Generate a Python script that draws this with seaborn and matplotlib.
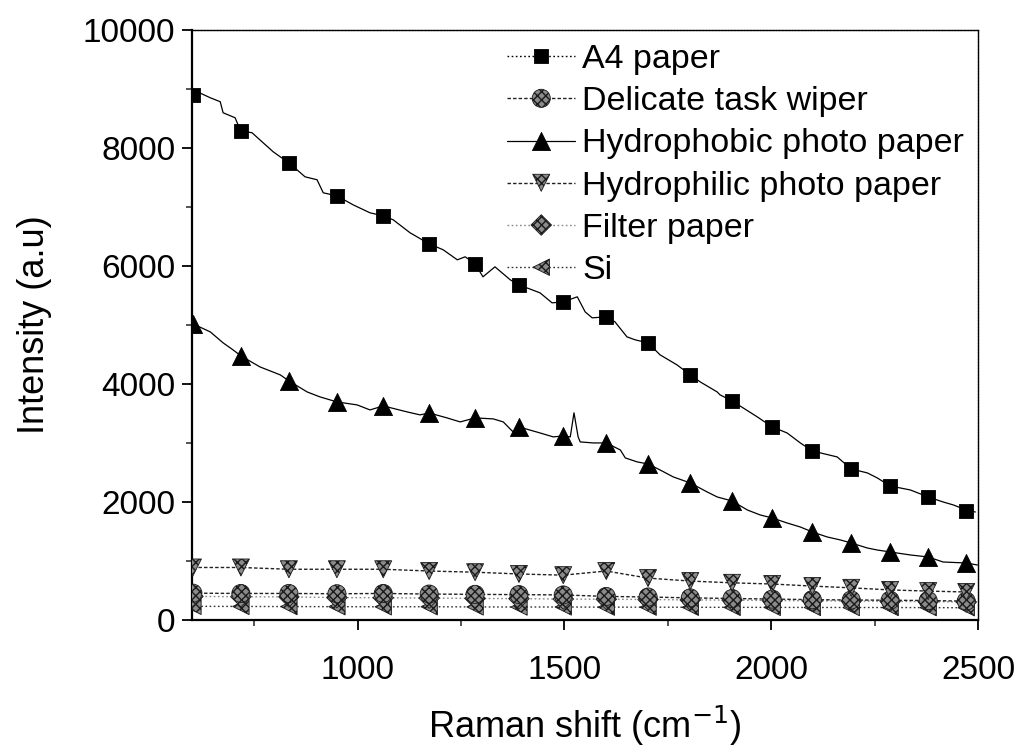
import numpy as np
import pandas as pd
import matplotlib
matplotlib.use("Agg")
import matplotlib.pyplot as plt
import seaborn as sns
from matplotlib.lines import Line2D
from matplotlib.ticker import MultipleLocator

# ---------------- data ----------------
series_names = ["A4 paper", "Delicate task wiper", "Hydrophobic photo paper",
                "Hydrophilic photo paper", "Filter paper", "Si"]

marker_x = [602, 718, 834, 950, 1062, 1173, 1284, 1390, 1497, 1601,
            1702, 1804, 1905, 2002, 2099, 2193, 2287, 2379, 2471]

a4_y = [8900, 8290, 7750, 7190, 6850, 6370, 6030, 5680, 5390, 5140,
        4690, 4150, 3710, 3270, 2860, 2560, 2270, 2080, 1850]
wiper_y = [455, 450, 450, 445, 450, 440, 435, 430, 425, 400,
           390, 375, 365, 355, 345, 340, 335, 330, 320]
hydrophobic_y = [5017, 4475, 4051, 3695, 3627, 3508, 3424, 3271, 3119, 3000,
                 2644, 2322, 2017, 1729, 1492, 1305, 1153, 1068, 966]
hydrophilic_y = [890, 890, 860, 860, 860, 830, 810, 780, 760, 830,
                 710, 660, 630, 610, 575, 545, 510, 490, 475]
filter_y = [400, 395, 392, 380, 378, 372, 366, 362, 355, 352,
            348, 340, 338, 330, 326, 322, 316, 312, 305]
si_y = [232, 230, 228, 226, 224, 225, 222, 220, 221, 218,
        218, 216, 215, 214, 213, 212, 212, 210, 208]

# denser traces of the two noisy spectra
a4_trace_x = [602, 644, 668, 675, 704, 711, 718, 745, 769, 796, 813, 834, 873, 902,
              917, 950, 989, 1030, 1062, 1086, 1127, 1156, 1173, 1207, 1241, 1260,
              1284, 1303, 1332, 1369, 1390, 1441, 1470, 1497, 1531, 1550, 1567,
              1601, 1622, 1651, 1671, 1702, 1731, 1772, 1804, 1828, 1869, 1876,
              1905, 1966, 2002, 2038, 2070, 2099, 2159, 2193, 2232, 2256, 2287,
              2336, 2379, 2415, 2440, 2471, 2493]
a4_trace_y = [8983, 8847, 8780, 8593, 8508, 8390, 8288, 8254, 8102, 7932, 7847, 7746,
              7508, 7458, 7237, 7186, 7034, 6898, 6847, 6780, 6559, 6441, 6373, 6271,
              6102, 6153, 6034, 5814, 5983, 5763, 5678, 5542, 5373, 5390, 5475, 5220,
              5119, 5136, 5051, 4797, 4746, 4695, 4492, 4322, 4153, 4034, 3864, 3814,
              3712, 3441, 3271, 3169, 3000, 2864, 2763, 2559, 2492, 2407, 2271, 2203,
              2085, 2000, 1949, 1864, 1830]

hp_trace_x = [602, 644, 675, 699, 718, 764, 813, 834, 878, 909, 950, 999, 1030, 1062,
              1120, 1151, 1173, 1216, 1248, 1284, 1328, 1352, 1376, 1390, 1441, 1473,
              1497, 1514, 1523, 1533, 1538, 1569, 1601, 1635, 1647, 1676, 1702, 1731,
              1763, 1804, 1845, 1869, 1905, 1942, 1973, 2002, 2038, 2070, 2099, 2135,
              2167, 2193, 2232, 2256, 2287, 2336, 2379, 2415, 2471, 2498]
hp_trace_y = [5017, 4881, 4695, 4576, 4475, 4288, 4153, 4051, 3864, 3780, 3695, 3644,
              3559, 3627, 3525, 3475, 3508, 3424, 3356, 3424, 3407, 3356, 3186, 3271,
              3169, 3102, 3119, 3102, 3510, 3102, 3017, 3000, 3000, 2881, 2746, 2678,
              2644, 2542, 2424, 2322, 2169, 2085, 2017, 1864, 1780, 1729, 1644, 1576,
              1492, 1407, 1356, 1305, 1220, 1186, 1153, 1102, 1068, 983, 966, 932]

x_ticks = [1000, 1500, 2000, 2500]
y_ticks = [0, 2000, 4000, 6000, 8000, 10000]

# ---------------- figure ----------------
sns.set_theme(style="ticks")
plt.rcParams["font.family"] = ["Liberation Sans", "DejaVu Sans"]
plt.rcParams["hatch.linewidth"] = 1.0
plt.rcParams["text.color"] = "black"
plt.rcParams["axes.labelcolor"] = "black"

fig = plt.figure(figsize=(10.19, 7.52), dpi=100)
ax = fig.add_axes([0.1885, 0.1755, 0.7715, 0.785])

markers_df = pd.DataFrame({
    "x": marker_x * 6,
    "y": a4_y + wiper_y + hydrophobic_y + hydrophilic_y + filter_y + si_y,
    "series": sum([[n] * len(marker_x) for n in series_names], []),
})

styles = {
    "A4 paper": dict(marker="s", s=110, fc="black", ec="black", hatch=None,
                     ls=(0, (1.2, 1.8)), lw=1.0, lc="black"),
    "Delicate task wiper": dict(marker="o", s=170, fc="#8a8a8a", ec="#1a1a1a", hatch="xxxx",
                                ls=(0, (2.5, 1.5)), lw=1.0, lc="#222222"),
    "Hydrophobic photo paper": dict(marker="^", s=170, fc="black", ec="black", hatch=None,
                                    ls="-", lw=0.9, lc="black"),
    "Hydrophilic photo paper": dict(marker="v", s=150, fc="#8a8a8a", ec="#1a1a1a", hatch="xxxx",
                                    ls=(0, (2.5, 1.5)), lw=1.0, lc="#222222"),
    "Filter paper": dict(marker="D", s=110, fc="#8a8a8a", ec="#1a1a1a", hatch="xxxx",
                         ls=(0, (1.2, 1.8)), lw=1.0, lc="#888888"),
    "Si": dict(marker="<", s=140, fc="#8a8a8a", ec="#1a1a1a", hatch="xxxx",
               ls=(0, (1.2, 1.8)), lw=1.0, lc="#333333"),
}

# lines for the low, flat spectra
draw_order = ["Si", "Filter paper", "Delicate task wiper", "Hydrophilic photo paper"]
for name in draw_order:
    st = styles[name]
    sub = markers_df[markers_df.series == name]
    sns.lineplot(data=sub, x="x", y="y", ax=ax, color=st["lc"], linewidth=st["lw"],
                 linestyle=st["ls"], sort=False, estimator=None, legend=False)

# noisy traces
trace_df = pd.DataFrame({
    "x": a4_trace_x + hp_trace_x,
    "y": a4_trace_y + hp_trace_y,
    "series": ["A4 paper"] * len(a4_trace_x) + ["Hydrophobic photo paper"] * len(hp_trace_x),
})
for name in ["A4 paper", "Hydrophobic photo paper"]:
    sub = trace_df[trace_df.series == name]
    sns.lineplot(data=sub, x="x", y="y", ax=ax, color="black", linewidth=0.9,
                 sort=False, estimator=None, legend=False)

# markers
scatter_handles = {}
for name in draw_order + ["Hydrophobic photo paper", "A4 paper"]:
    st = styles[name]
    sub = markers_df[markers_df.series == name]
    kw = dict(marker=st["marker"], s=st["s"], facecolor=st["fc"], edgecolor=st["ec"],
              linewidth=0.6, zorder=5, legend=False)
    if st["hatch"]:
        kw["hatch"] = st["hatch"]
    sns.scatterplot(data=sub, x="x", y="y", ax=ax, **kw)
    scatter_handles[name] = ax.collections[-1]

# axes
ax.set_xlim(600, 2500)
ax.set_ylim(0, 10000)
ax.set_xticks(x_ticks)
ax.set_yticks(y_ticks)
ax.xaxis.set_minor_locator(MultipleLocator(250))
ax.yaxis.set_minor_locator(MultipleLocator(1000))
ax.tick_params(axis="both", which="major", direction="out", length=7, width=1.3,
               labelsize=24, colors="black", pad=5)
ax.tick_params(axis="both", which="minor", direction="out", length=4, width=1.1)
ax.tick_params(axis="x", which="major", pad=18)
for sp in ["left", "bottom"]:
    ax.spines[sp].set_linewidth(1.6)
    ax.spines[sp].set_color("black")
for sp in ["top", "right"]:
    ax.spines[sp].set_visible(True)
    ax.spines[sp].set_linewidth(1.0)
    ax.spines[sp].set_linestyle((0, (1.5, 0.8)))
    ax.spines[sp].set_color("black")

ax.set_xlabel("Raman shift (cm$^{-1}$)", fontsize=26, labelpad=13)
ax.set_ylabel("Intensity (a.u)", fontsize=26, labelpad=22)

# legend
handles = []
for name in series_names:
    st = styles[name]
    ln = Line2D([], [], color=st["lc"], linestyle=st["ls"], linewidth=st["lw"])
    handles.append((ln, scatter_handles[name]))
leg = ax.legend(handles, series_names, loc="upper right", bbox_to_anchor=(1.0, 1.0),
                frameon=False, fontsize=24.5, handlelength=2.0, handletextpad=0.2,
                labelspacing=0.33, borderaxespad=0.02, scatterpoints=1,
                scatteryoffsets=[0.5])

fig.savefig("out.png", dpi=100)
